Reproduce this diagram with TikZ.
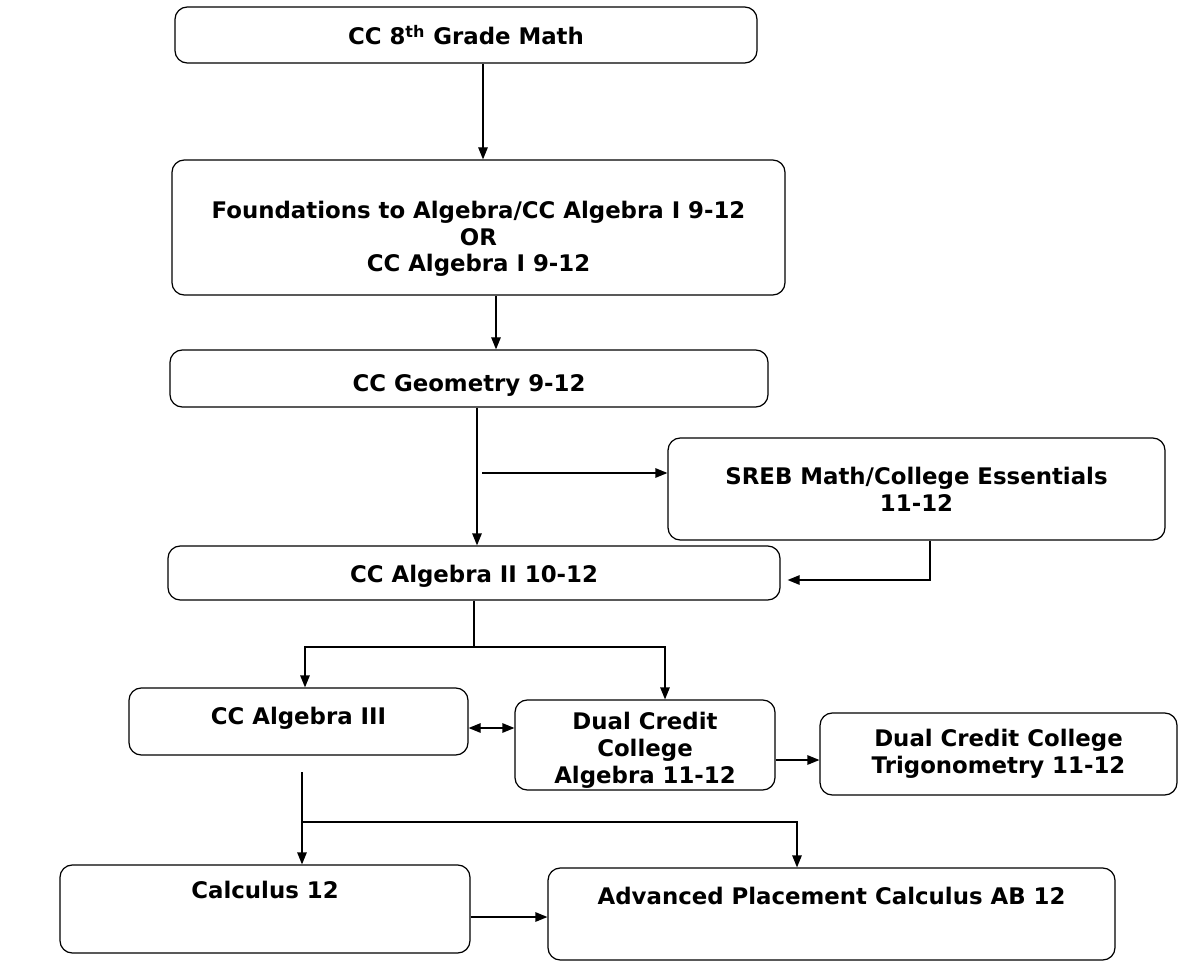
\documentclass[tikz,border=0pt]{standalone}
\usepackage{fontspec}
\setmainfont{DejaVu Sans}
\usetikzlibrary{arrows.meta, calc}
\newlength\pxu
\setlength\pxu{0.2mm}
\tikzset{
    course/.style={draw, rounded corners=7pt, align=center, inner sep=0pt, line width=0.7pt,
        font=\fontsize{13}{15.3}\selectfont\bfseries},
    flow/.style={-{Triangle[length=2.4mm, width=1.9mm]}, line width=0.7pt},
    twoway/.style={{Triangle[length=2.4mm, width=1.9mm]}-{Triangle[length=2.4mm, width=1.9mm]}, line width=0.7pt},
}
\begin{document}
\begin{tikzpicture}[x=0.2mm, y=-0.2mm]
        \useasboundingbox (0,0) rectangle (1187,979);

        \node[course, minimum width=582\pxu, minimum height=56\pxu] (math8) at (466,35) {CC 8\textsuperscript{th} Grade Math};
        \node[course, minimum width=613\pxu, text height=112\pxu, text depth=23\pxu] (found) at (478.5,227.5) {Foundations to Algebra/CC Algebra I 9-12\\OR\\CC Algebra I 9-12};
        \node[course, minimum width=598\pxu, text height=42\pxu, text depth=15\pxu] (geom) at (469,378.5) {CC Geometry 9-12};
        \node[course, minimum width=497\pxu, minimum height=102\pxu] (sreb) at (916.5,489) {SREB Math/College Essentials\\11-12};
        \node[course, minimum width=612\pxu, text height=36\pxu, text depth=18\pxu] (alg2) at (474,573) {CC Algebra II 10-12};
        \node[course, minimum width=339\pxu, text height=36\pxu, text depth=31\pxu] (alg3) at (298.5,721.5) {CC Algebra III};
        \node[course, minimum width=260\pxu, text height=83\pxu, text depth=7\pxu] (dcalg) at (645,745) {Dual Credit\\College\\Algebra 11-12};
        \node[course, minimum width=357\pxu, minimum height=82\pxu] (dctrig) at (998.5,754) {Dual Credit College\\Trigonometry 11-12};
        \node[course, minimum width=410\pxu, text height=33\pxu, text depth=55\pxu] (calc) at (265,909) {Calculus 12};
        \node[course, minimum width=567\pxu, text height=36\pxu, text depth=56\pxu] (ap) at (831.5,914) {Advanced Placement Calculus AB 12};

        \coordinate (v1) at (483,0);
        \coordinate (v2) at (496,0);
        \coordinate (v3) at (477,0);
        \coordinate (b1) at (482,473);
        \coordinate (s1) at (930,580);
        \coordinate (j1) at (474,647);
        \coordinate (j2) at (305,647);
        \coordinate (j3) at (665,647);
        \coordinate (h1) at (0,728);
        \coordinate (h2) at (0,760);
        \coordinate (k1) at (302,772);
        \coordinate (k2) at (302,822);
        \coordinate (k3) at (797,822);
        \coordinate (h3) at (0,917);

        \draw[flow] (math8.south -| v1) -- (found.north -| v1);
        \draw[flow] (found.south -| v2) -- (geom.north -| v2);
        \draw[flow] (geom.south -| v3) -- (alg2.north -| v3);
        \draw[flow] (b1) -- (b1 -| sreb.west);
        \draw[flow, shorten >=7\pxu] (sreb.south -| s1) -- (s1) -- (s1 -| alg2.east);
        \draw[line width=0.7pt] (alg2.south) -- (j1);
        \draw[flow] (j1) -- (j2) -- (j2 |- alg3.north);
        \draw[flow] (j1) -- (j3) -- (j3 |- dcalg.north);
        \draw[twoway] (alg3.east |- h1) -- (dcalg.west |- h1);
        \draw[flow] (dcalg.east |- h2) -- (dctrig.west |- h2);
        \draw[flow] (k1) -- (k1 |- calc.north);
        \draw[flow] (k2) -- (k3) -- (k3 |- ap.north);
        \draw[flow] (calc.east |- h3) -- (ap.west |- h3);

\end{tikzpicture}
\end{document}
